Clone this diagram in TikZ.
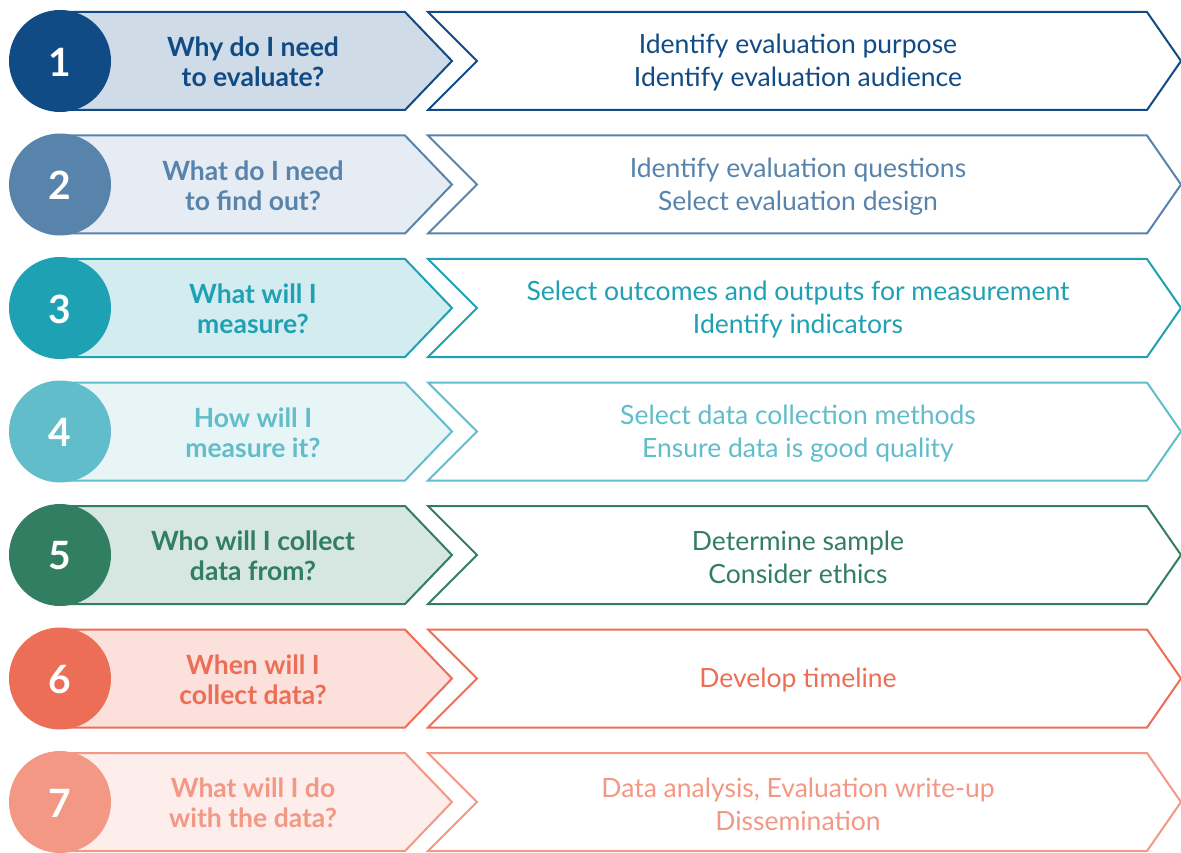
\documentclass[tikz,border=0pt]{standalone}
\usepackage{fontspec}
\setmainfont{Lato}
\definecolor{main1}{HTML}{114B85}\definecolor{soft1}{HTML}{CFDBE7}
\definecolor{main2}{HTML}{5883AB}\definecolor{soft2}{HTML}{E6ECF4}
\definecolor{main3}{HTML}{1FA1B4}\definecolor{soft3}{HTML}{D3ECF0}
\definecolor{main4}{HTML}{62BDCA}\definecolor{soft4}{HTML}{E8F5F7}
\definecolor{main5}{HTML}{327E62}\definecolor{soft5}{HTML}{D6E6E0}
\definecolor{main6}{HTML}{ED6E56}\definecolor{soft6}{HTML}{FCE0DB}
\definecolor{main7}{HTML}{F39885}\definecolor{soft7}{HTML}{FDEDEB}
\tikzset{
  question/.style={align=center, font=\fontsize{26.5}{30}\selectfont\bfseries},
  answer/.style={align=center, font=\fontsize{26.5}{33}\selectfont},
  number/.style={text=white, font=\fontsize{39}{39}\selectfont\bfseries}
}

\begin{document}
\begin{tikzpicture}[x=1pt,y=-1pt]
    \fill[white] (0,0) rectangle (1181,853);
    \useasboundingbox (0,0) rectangle (1181,853);
    \foreach \n/\q/\a in {
        1/{Why do I need\\to evaluate?}/{Identify evaluation purpose\\Identify evaluation audience},
        2/{What do I need\\to find out?}/{Identify evaluation questions\\Select evaluation design},
        3/{What will I\\measure?}/{Select outcomes and outputs for measurement\\Identify indicators},
        4/{How will I\\measure it?}/{Select data collection methods\\Ensure data is good quality},
        5/{Who will I collect\\data from?}/{Determine sample\\Consider ethics},
        6/{When will I\\collect data?}/{Develop timeline},
        7/{What will I do\\with the data?}/{Data analysis, Evaluation write-up\\Dissemination}}{
        \pgfmathsetmacro\y{61+123.5*(\n-1)}
        \filldraw[fill=soft\n, draw=main\n, line width=2pt, line join=miter]
            (60,\y-49) -- (405,\y-49) -- (452,\y) -- (405,\y+49) -- (60,\y+49) -- cycle;
        \draw[main\n, line width=2pt, line join=miter]
            (428,\y-49) -- (1147,\y-49) -- (1181,\y) -- (1147,\y+49) -- (428,\y+49) -- (477,\y) -- cycle;
        \fill[main\n] (60,\y) circle (51);
        \node[number] (num\n) at (60,\y+1) {\n};
        \node[question, text=main\n] (q\n) at (253,\y+1) {\q};
        \node[answer, text=main\n] (a\n) at (798,\y+2) {\a};
    }
\end{tikzpicture}
\end{document}
